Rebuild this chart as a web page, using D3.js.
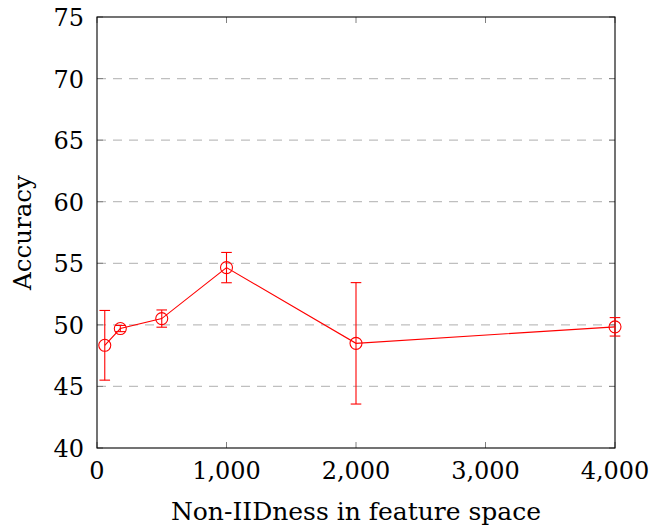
<!DOCTYPE html>
<html><head><meta charset="utf-8">
<script src="https://cdn.jsdelivr.net/npm/d3@7"></script>
<style>
body{margin:0;background:#fff;}
svg{display:block;}
text{font-family:"DejaVu Serif",serif;fill:#000;}
</style></head>
<body>
<svg id="c" width="649" height="527"></svg>
<script>
const xValues = [60, 180, 500, 1000, 2000, 4000];
const accuracy = [48.34, 49.7, 50.51, 54.65, 48.5, 49.84];
const errors = [2.83, 0.25, 0.7, 1.23, 4.93, 0.75];
const xTicks = [0, 1000, 2000, 3000, 4000];
const yTicks = [40, 45, 50, 55, 60, 65, 70, 75];
const xLabel = "Non-IIDness in feature space";
const yLabel = "Accuracy";

const W = 649, H = 527;
const m = {left: 97, right: 34, top: 17, bottom: 79};
const svg = d3.select("#c");
const x = d3.scaleLinear().domain([0, 4000]).range([m.left, W - m.right]);
const y = d3.scaleLinear().domain([40, 75]).range([H - m.bottom, m.top]);
const fs = 24;
const fmt = d3.format(",");

// grid
svg.append("g").selectAll("line").data(yTicks.filter(d => d > 40 && d < 75)).join("line")
  .attr("x1", m.left).attr("x2", W - m.right)
  .attr("y1", d => y(d)).attr("y2", d => y(d))
  .attr("stroke", "#bfbfbf").attr("stroke-width", 1.2).attr("stroke-dasharray", "9,7");

// ticks inside (bottom/top, left/right)
const tl = 6;
const tg = svg.append("g").attr("stroke", "#808080").attr("stroke-width", 1);
xTicks.forEach(d => {
  tg.append("line").attr("x1", x(d)).attr("x2", x(d)).attr("y1", y(40)).attr("y2", y(40) - tl);
  tg.append("line").attr("x1", x(d)).attr("x2", x(d)).attr("y1", y(75)).attr("y2", y(75) + tl);
});
yTicks.forEach(d => {
  tg.append("line").attr("x1", x(0)).attr("x2", x(0) + tl).attr("y1", y(d)).attr("y2", y(d));
  tg.append("line").attr("x1", x(4000)).attr("x2", x(4000) - tl).attr("y1", y(d)).attr("y2", y(d));
});

// frame
svg.append("rect").attr("x", m.left).attr("y", m.top)
  .attr("width", W - m.left - m.right).attr("height", H - m.top - m.bottom)
  .attr("fill", "none").attr("stroke", "#000").attr("stroke-width", 1.1);

// tick labels
svg.append("g").selectAll("text").data(xTicks).join("text")
  .attr("x", d => x(d)).attr("y", y(40) + 31)
  .attr("text-anchor", "middle").attr("font-size", fs).text(d => fmt(d));
svg.append("g").selectAll("text").data(yTicks).join("text")
  .attr("x", m.left - 13).attr("y", d => y(d) + 9)
  .attr("text-anchor", "end").attr("font-size", fs).text(d => d);

// axis labels
svg.append("text").attr("x", (x(0) + x(4000)) / 2).attr("y", 520)
  .attr("text-anchor", "middle").attr("font-size", 25).text(xLabel);
svg.append("text").attr("transform", `translate(31,${(y(40) + y(75)) / 2}) rotate(-90)`)
  .attr("text-anchor", "middle").attr("font-size", 24.5).text(yLabel);

// data
const data = xValues.map((v, i) => ({x: v, y: accuracy[i], e: errors[i]}));
const red = "#ff0000";
svg.append("path").datum(data)
  .attr("d", d3.line().x(d => x(d.x)).y(d => y(d.y)))
  .attr("fill", "none").attr("stroke", red).attr("stroke-width", 1.1);
const eg = svg.append("g").attr("stroke", red).attr("stroke-width", 1.1);
data.forEach(d => {
  eg.append("line").attr("x1", x(d.x)).attr("x2", x(d.x)).attr("y1", y(d.y - d.e)).attr("y2", y(d.y + d.e));
  [d.y - d.e, d.y + d.e].forEach(v => {
    eg.append("line").attr("x1", x(d.x) - 5.3).attr("x2", x(d.x) + 5.3).attr("y1", y(v)).attr("y2", y(v));
  });
});
svg.append("g").selectAll("circle").data(data).join("circle")
  .attr("cx", d => x(d.x)).attr("cy", d => y(d.y)).attr("r", 6)
  .attr("fill", "none").attr("stroke", red).attr("stroke-width", 1.1);
</script>
</body></html>
